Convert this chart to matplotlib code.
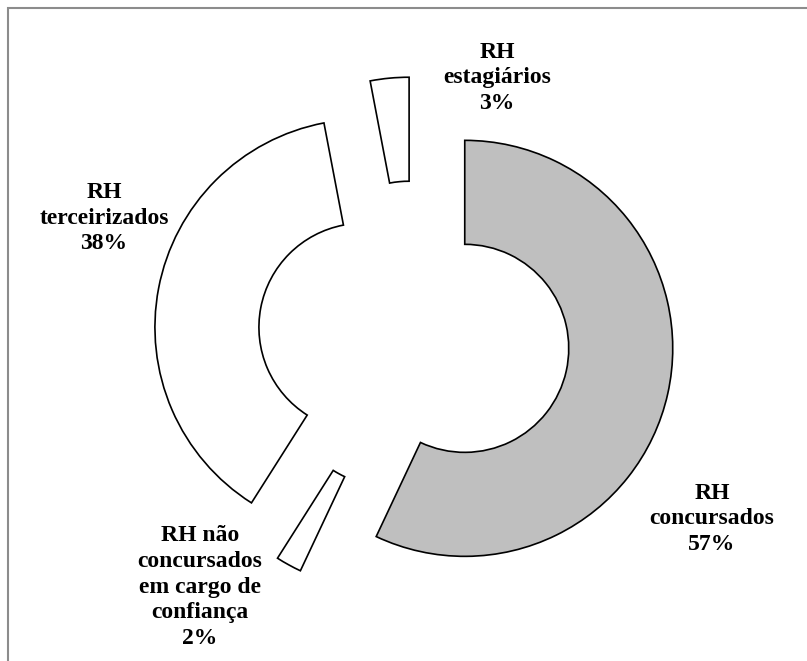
import matplotlib.pyplot as plt
from matplotlib.patches import Rectangle

# dados do grafico
categorias = ['RH concursados', 'RH não concursados em cargo de confiança',
              'RH terceirizados', 'RH estagiários']
valores = [57, 2, 38, 3]
rotulos = ['RH\nconcursados\n57%',
           'RH não\nconcursados\nem cargo de\nconfiança\n2%',
           'RH\nterceirizados\n38%',
           'RH\nestagiários\n3%']
cores = ['#bfbfbf', 'white', 'white', 'white']

W, H = 807, 661
cx, cy = 414, 337      # centro do anel (px, a partir do topo)
R = 208                # raio externo em px

# posicao do centro de cada rotulo (px)
pos_rotulos = [(712, 519), (200, 587), (104, 218), (497, 78)]

fig = plt.figure(figsize=(W / 100, H / 100), dpi=100)
ax = fig.add_axes([0, 0, 1, 1])

ax.pie(valores, colors=cores, radius=1, startangle=90, counterclock=False,
       explode=[0.25] * len(valores),
       wedgeprops=dict(width=0.5, edgecolor='black', linewidth=1.2))

ax.set_xlim(-cx / R, (W - cx) / R)
ax.set_ylim(-(H - cy) / R, cy / R)
ax.set_aspect('auto')
ax.axis('off')

for txt, (px, py) in zip(rotulos, pos_rotulos):
    fig.text(px / W, 1 - py / H, txt, ha='center', va='center',
             fontsize=17, fontweight='bold', family='Liberation Serif',
             linespacing=1.3)

# moldura cinza
fig.patches.append(Rectangle((8 / W, -0.1), 1.2, 1 - 8 / H + 0.1,
                             transform=fig.transFigure, fill=False,
                             edgecolor='#8c8c8c', linewidth=1.5))

fig.savefig('out.png', dpi=100)
